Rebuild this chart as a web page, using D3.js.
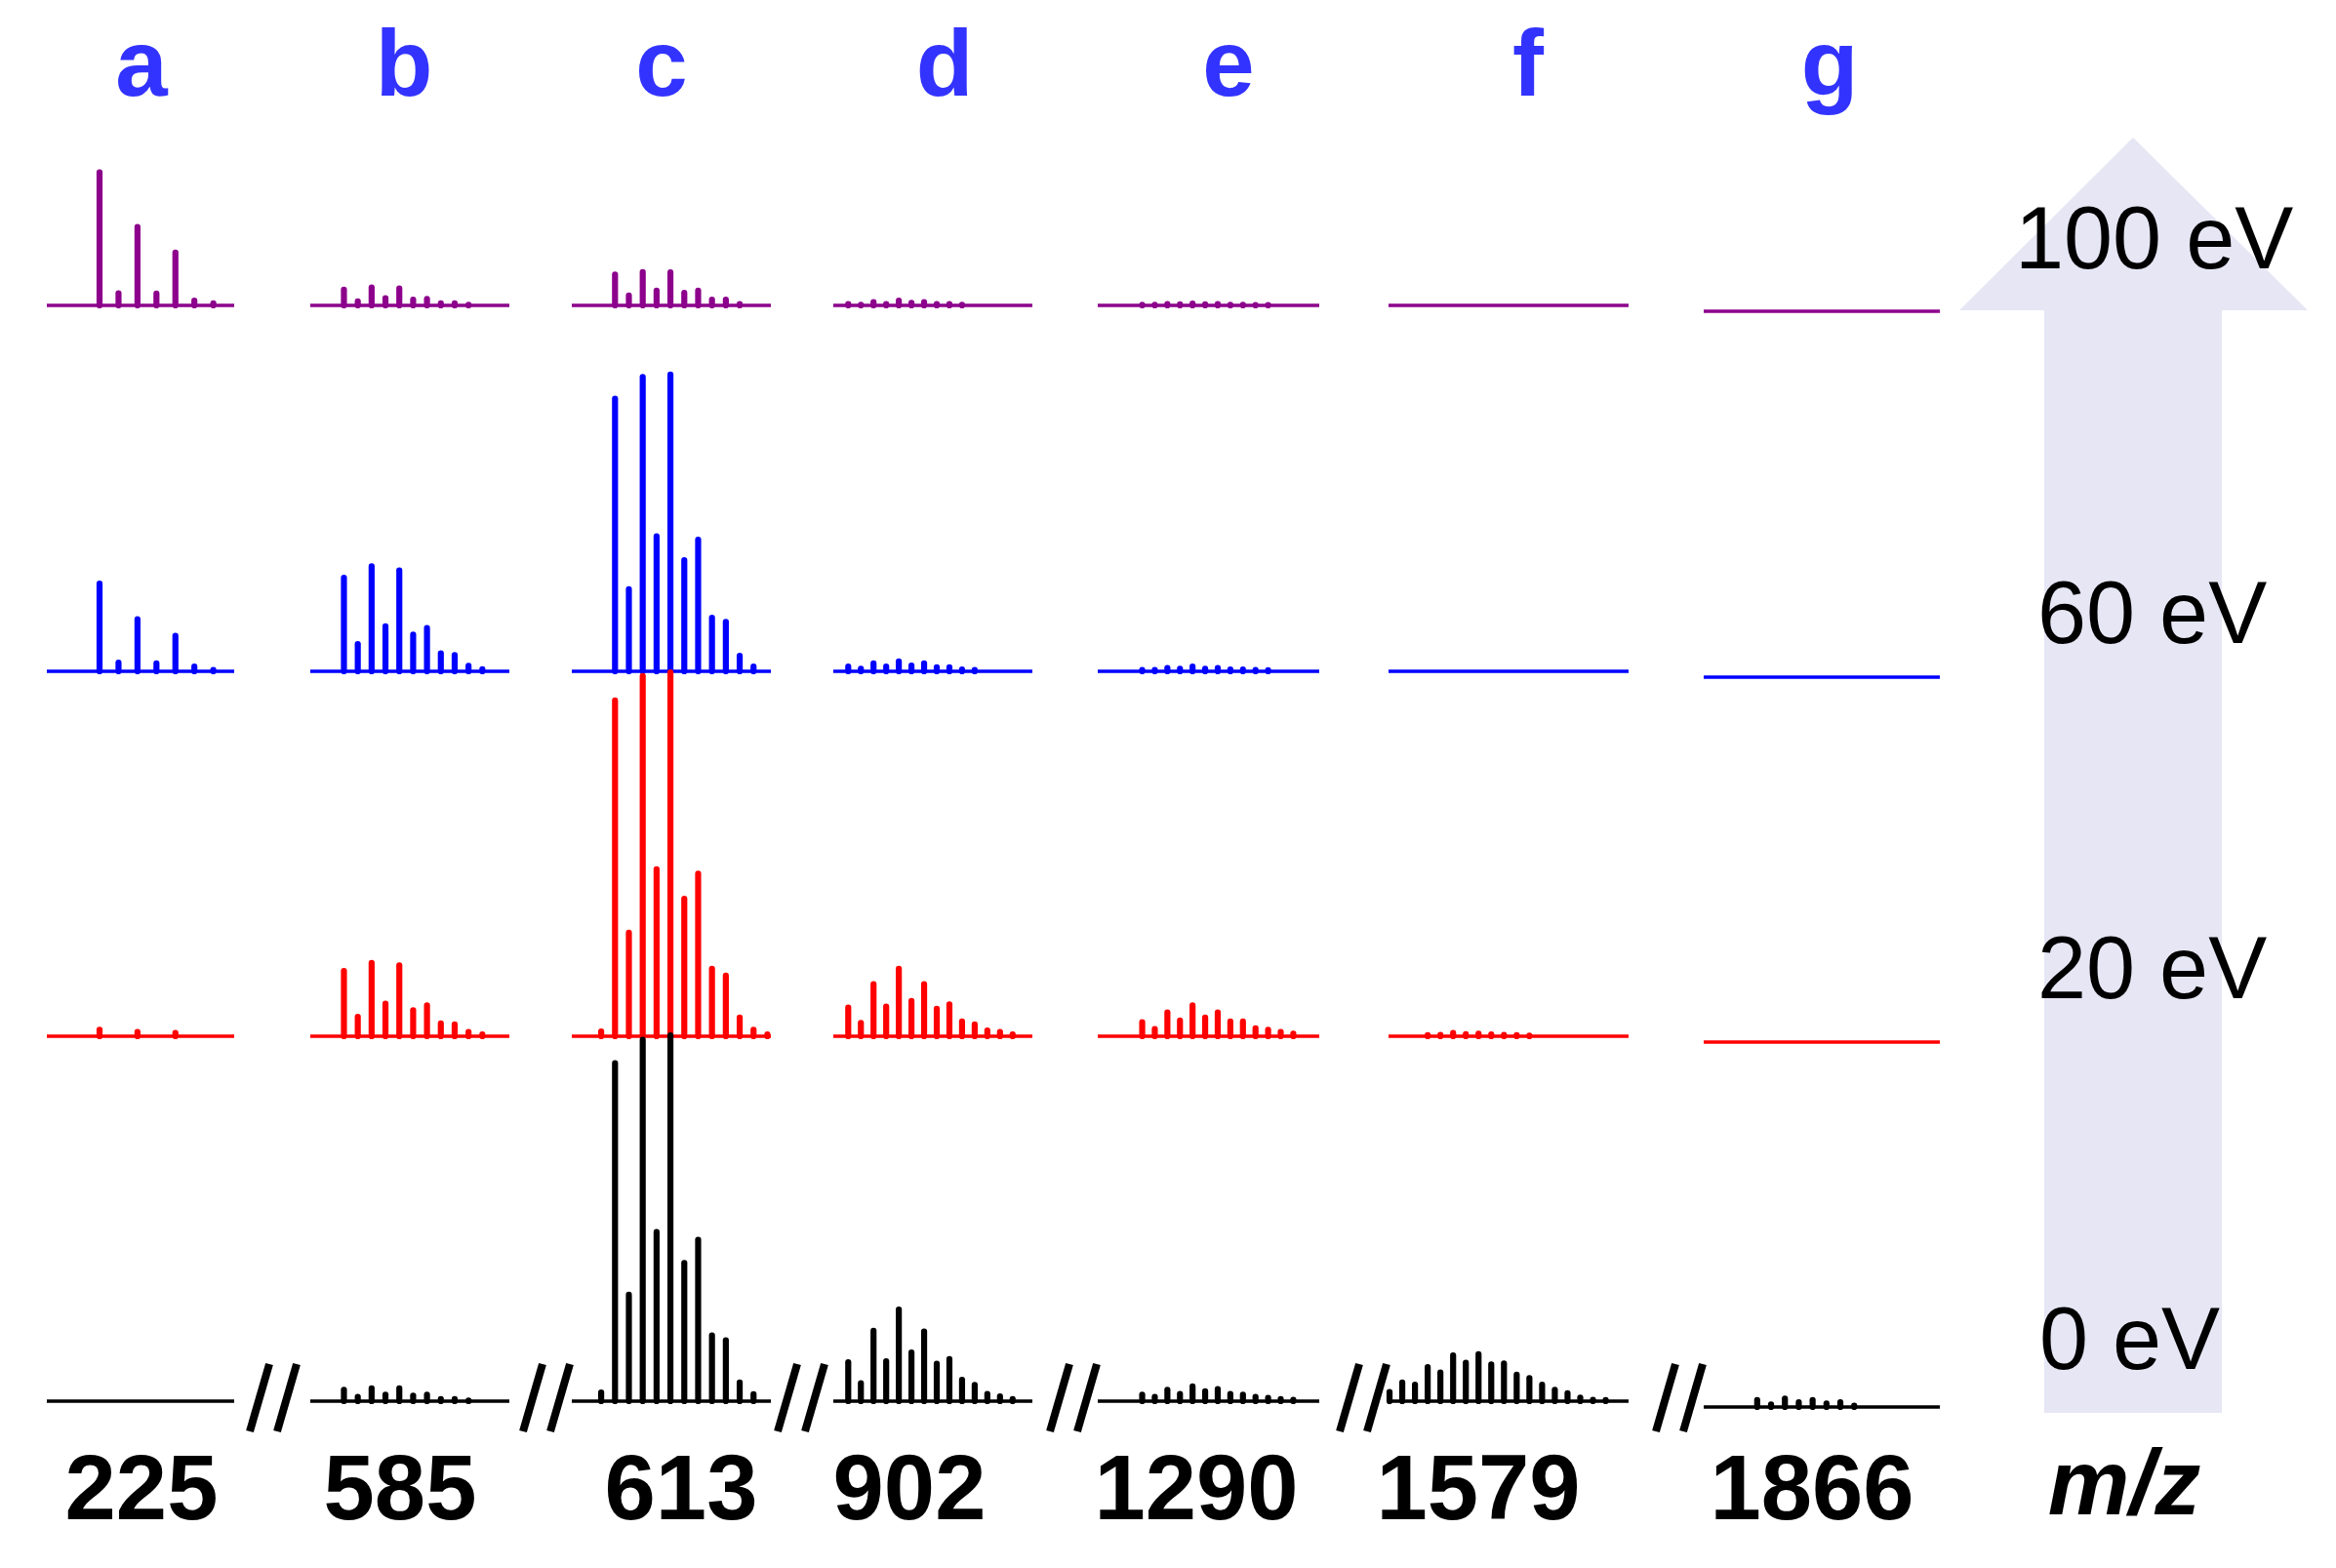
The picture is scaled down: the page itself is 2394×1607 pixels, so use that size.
<!DOCTYPE html>
<html>
<head>
<meta charset="utf-8">
<script src="https://cdn.jsdelivr.net/npm/d3@7"></script>
<style>
  html, body { margin: 0; padding: 0; background: #ffffff; }
  svg { display: block; }
  text { font-family: "Liberation Sans", Arial, Helvetica, sans-serif; }
</style>
</head>
<body>
<svg id="chart" width="2394" height="1607"></svg>
<script>
// ---------------- DATA ----------------
const columnLetters = ["a", "b", "c", "d", "e", "f", "g"];
const mzLabels = ["225", "585", "613", "902", "1290", "1579", "1866"];
const energyLabels = ["100 eV", "60 eV", "20 eV", "0 eV"];

// relative intensities (100 = tallest 0 eV peak), one array per isotope/charge envelope, by column a..g
const int100eV = [
  [36.3, 3.3, 21.4, 3.2, 14.4, 1.3, 0.6],
  [4.3, 1.1, 4.9, 2.0, 4.6, 1.6, 1.8, 0.6, 0.6, 0.2, 0],
  [0, 8.4, 2.7, 9.1, 4.0, 9.0, 3.4, 4.0, 1.6, 1.6, 0.4, 0, 0],
  [0.4, 0.2, 0.9, 0.4, 1.3, 0.7, 0.9, 0.4, 0.4, 0.2, 0, 0, 0, 0],
  [0.2, 0.2, 0.35, 0.3, 0.5, 0.3, 0.35, 0.2, 0.2, 0.1, 0.1, 0, 0],
  [0, 0, 0, 0, 0, 0, 0, 0, 0, 0, 0, 0, 0, 0, 0, 0, 0, 0],
  [0, 0, 0, 0, 0, 0, 0, 0]
];
const int60eV = [
  [23.9, 2.4, 14.2, 2.2, 9.7, 1.3, 0.4],
  [25.5, 7.4, 28.6, 12.3, 27.5, 10.0, 11.8, 4.9, 4.4, 1.5, 0.6],
  [0, 74.3, 22.4, 80.2, 36.8, 80.9, 30.3, 35.9, 14.6, 13.5, 4.2, 1.3, 0],
  [1.3, 0.7, 2.2, 1.3, 2.7, 1.6, 2.2, 1.1, 1.1, 0.5, 0.4, 0, 0, 0],
  [0.4, 0.4, 0.9, 0.7, 1.3, 0.7, 0.9, 0.5, 0.5, 0.35, 0.3, 0, 0],
  [0, 0, 0, 0, 0, 0, 0, 0, 0, 0, 0, 0, 0, 0, 0, 0, 0, 0],
  [0, 0, 0, 0, 0, 0, 0, 0]
];
const int20eV = [
  [1.8, 0, 1.2, 0, 0.9, 0, 0],
  [17.8, 5.3, 20.0, 8.9, 19.3, 7.1, 8.4, 3.5, 3.2, 1.2, 0.5],
  [1.3, 91.5, 28.2, 98.2, 45.5, 99.2, 37.5, 44.3, 18.4, 16.5, 5.1, 1.8, 0.5],
  [7.8, 3.6, 14.2, 8.1, 18.4, 9.6, 14.2, 7.5, 8.7, 4.0, 3.2, 1.6, 1.2, 0.5],
  [3.8, 2.0, 6.5, 4.3, 8.4, 5.1, 6.5, 4.0, 4.0, 2.2, 1.8, 1.2, 0.7],
  [0, 0, 0, 0.3, 0.4, 0.9, 0.6, 0.7, 0.5, 0.4, 0.3, 0.2, 0, 0, 0, 0, 0, 0],
  [0, 0, 0, 0, 0, 0, 0, 0]
];
const int0eV = [
  [0, 0, 0, 0, 0, 0, 0],
  [3.1, 1.2, 3.5, 1.8, 3.5, 1.5, 1.8, 0.6, 0.6, 0.2, 0],
  [2.4, 92.1, 29.0, 98.5, 46.1, 99.7, 37.7, 44.0, 17.9, 16.6, 5.1, 1.9, 0],
  [10.6, 4.9, 19.2, 10.9, 25.0, 13.3, 19.0, 10.2, 11.5, 5.8, 4.4, 2.0, 1.3, 0.6],
  [1.8, 1.2, 3.1, 2.0, 4.0, 2.7, 3.3, 2.0, 1.8, 1.2, 0.9, 0.6, 0.4],
  [2.5, 5.1, 4.5, 9.3, 7.8, 12.5, 10.5, 12.8, 10.0, 10.3, 7.2, 6.3, 4.5, 3.1, 2.2, 1.0, 0.4, 0.3],
  [1.9, 0.7, 2.3, 1.3, 1.9, 1.0, 1.3, 0.4]
];
const rows = [int100eV, int60eV, int20eV, int0eV];

// ---------------- LAYOUT ----------------
const rowColors = ["#8c008c", "#0000ff", "#ff0000", "#000000"];
const rowBaselines = [313, 688, 1062, 1436];
const colYOffset = [0, 0, 0, 0, 0, 0, 6];
const colRanges = [[48, 240], [318, 522], [586, 790], [854, 1058], [1125, 1352], [1423, 1669], [1746, 1988]];
const colDomains = [[-2.78, 7.10], [-2.43, 11.95], [-2.12, 12.25], [-1.18, 14.56], [-3.53, 14.06], [-0.08, 18.8], [-3.86, 13.18]];
const letterX = [145, 414, 678, 968, 1259, 1566, 1875];
const mzX = [145, 410, 698, 932, 1226, 1515, 1857];
const breakX = [280, 560, 821, 1100, 1397, 1721];
const energyX = [2065, 2088, 2088, 2090];
const energyY = [275, 659, 1023, 1403];
const intensityMax = 100, intensityPx = 376;

const svg = d3.select("#chart");

// ---- arrow (background) ----
const arrowPts = [[2186, 141], [2365, 318], [2277, 318], [2277, 1448], [2095, 1448], [2095, 318], [2008, 318]];
svg.append("path")
  .attr("d", d3.line()(arrowPts) + "Z")
  .attr("fill", "#e6e6f5");

// ---- spectra ----
const xScales = colRanges.map((r, i) => d3.scaleLinear().domain(colDomains[i]).range(r));

rows.forEach((rowData, r) => {
  const g = svg.append("g").attr("class", "row-" + r);
  rowData.forEach((vals, c) => {
    const base = rowBaselines[r] + colYOffset[c];
    const y = d3.scaleLinear().domain([0, intensityMax]).range([base, base - intensityPx]);
    const x = xScales[c];
    // baseline
    g.append("line")
      .attr("x1", x(colDomains[c][0])).attr("x2", x(colDomains[c][1]))
      .attr("y1", y(0)).attr("y2", y(0))
      .attr("stroke", rowColors[r]).attr("stroke-width", 3.6);
    // peaks
    g.selectAll(null)
      .data(vals.map((v, i) => ({ v, i })).filter(d => d.v > 0))
      .enter().append("line")
      .attr("x1", d => x(d.i)).attr("x2", d => x(d.i))
      .attr("y1", y(0)).attr("y2", d => y(d.v))
      .attr("stroke", rowColors[r])
      .attr("stroke-width", 6.2)
      .attr("stroke-linecap", "round");
  });
});

// ---- axis breaks "//" ----
const brk = svg.append("g").attr("class", "breaks");
breakX.forEach(cx => {
  [[-24, -4], [4, 24]].forEach(([b, t]) => {
    brk.append("line")
      .attr("x1", cx + b).attr("y1", 1467)
      .attr("x2", cx + t).attr("y2", 1398)
      .attr("stroke", "#000").attr("stroke-width", 8);
  });
});

// ---- column letters ----
svg.append("g").selectAll("text")
  .data(columnLetters).enter().append("text")
  .attr("x", (d, i) => letterX[i]).attr("y", 98)
  .attr("text-anchor", "middle")
  .attr("font-size", 96).attr("font-weight", "bold")
  .attr("fill", "#3333ff")
  .text(d => d);

// ---- m/z labels ----
svg.append("g").selectAll("text")
  .data(mzLabels).enter().append("text")
  .attr("x", (d, i) => mzX[i]).attr("y", 1557)
  .attr("text-anchor", "middle")
  .attr("font-size", 94).attr("font-weight", "bold")
  .attr("fill", "#000")
  .text(d => d);

svg.append("text")
  .attr("x", 2177).attr("y", 1552)
  .attr("text-anchor", "middle")
  .attr("font-size", 94).attr("font-weight", "bold").attr("font-style", "italic")
  .attr("fill", "#000")
  .text("m/z");

// ---- energy labels ----
svg.append("g").selectAll("text")
  .data(energyLabels).enter().append("text")
  .attr("x", (d, i) => energyX[i]).attr("y", (d, i) => energyY[i])
  .attr("text-anchor", "start")
  .attr("font-size", 90)
  .attr("fill", "#000")
  .text(d => d);
</script>
</body>
</html>
